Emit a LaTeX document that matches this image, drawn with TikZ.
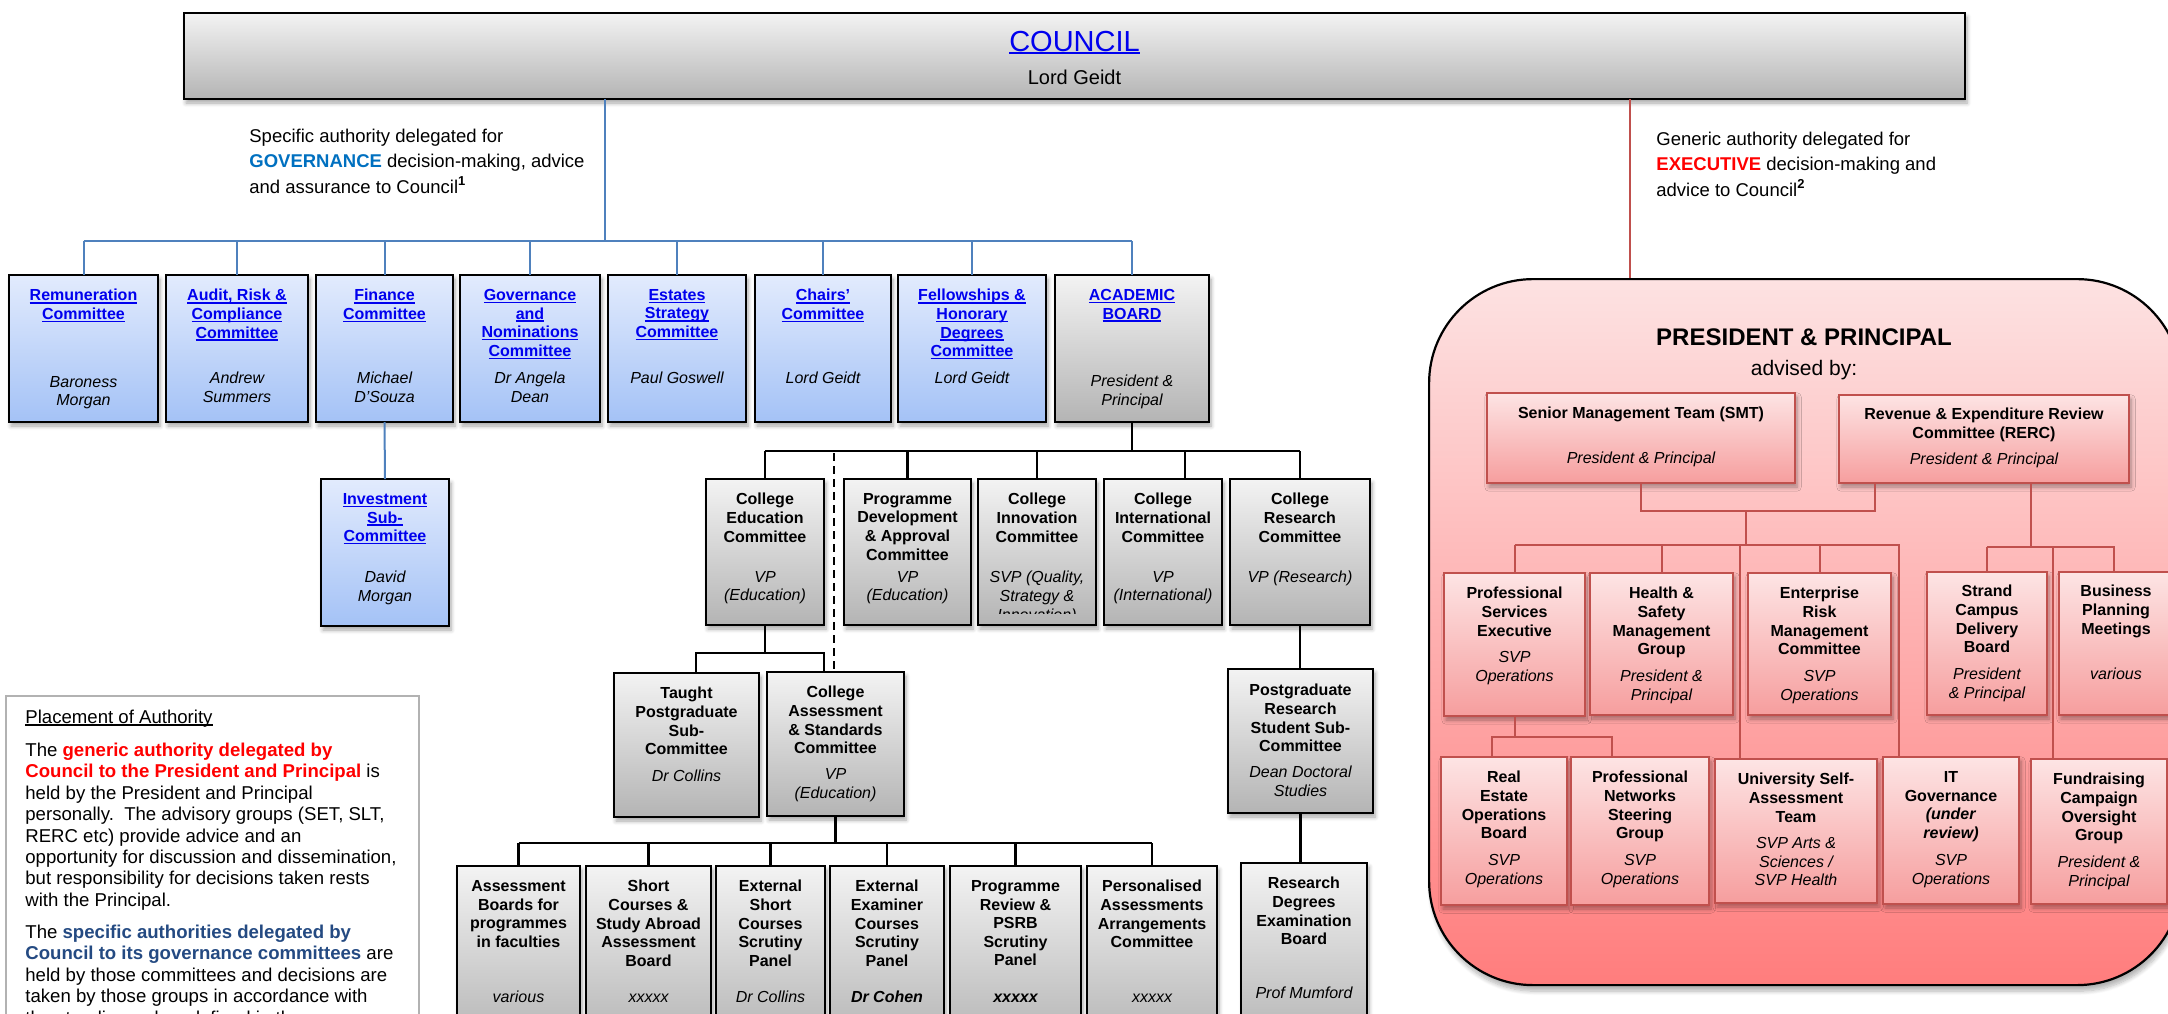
\documentclass[tikz,border=0pt]{standalone}
\usepackage{fontspec}
\setmainfont{Liberation Sans}
\usetikzlibrary{shadows.blur}
\definecolor{linkblue}{RGB}{0,0,238}
\definecolor{govblue}{RGB}{0,112,192}
\definecolor{specblue}{RGB}{36,74,130}
\definecolor{exred}{RGB}{255,0,0}
\definecolor{connblue}{RGB}{79,129,189}
\definecolor{connred}{RGB}{192,80,77}
\definecolor{blueT}{RGB}{226,235,253}
\definecolor{blueB}{RGB}{164,194,246}
\definecolor{greyT}{RGB}{243,243,243}
\definecolor{greyB}{RGB}{180,180,180}
\definecolor{redT}{RGB}{253,228,228}
\definecolor{redB}{RGB}{246,158,158}
\definecolor{bigT}{RGB}{253,226,226}
\definecolor{bigB}{RGB}{255,125,125}
\newcommand\lnk[1]{\setbox0\hbox{#1}\rlap{\rule[-1.3pt]{\wd0}{0.65pt}}\box0}
\newcommand\bx[6]{\node[#1, anchor=north west, minimum width={(#5-#3)*0.5pt}, minimum height={(#6-#4)*0.5pt}] (#2) at (#3,#4) {};}
\tikzset{
  shad/.style={blur shadow={shadow xshift=1pt, shadow yshift=-2pt, shadow blur steps=6, shadow opacity=35}},
  boxbase/.style={rectangle, inner sep=0pt, outer sep=0pt, line width=1.1pt, shad},
  bluebox/.style={boxbase, draw=black, top color=blueT, bottom color=blueB},
  greybox/.style={boxbase, draw=black, top color=greyT, bottom color=greyB},
  redbox/.style={boxbase, draw=connred, top color=redT, bottom color=redB},
  ttl/.style={font=\fontsize{8}{9.3}\selectfont\bfseries, align=center, inner sep=0pt, anchor=north, yshift=5.76pt},
  nm/.style={font=\fontsize{8}{9.3}\selectfont\itshape, align=center, inner sep=0pt, anchor=north, yshift=5.76pt},
  nmb/.style={font=\fontsize{8}{9.3}\selectfont\itshape, inner sep=0pt, anchor=base},
  lttl/.style={ttl, text=linkblue},
  hdr/.style={font=\fontsize{9.25}{12.75}\selectfont, align=left, inner sep=0pt, anchor=north west, yshift=6.66pt},
  ptxt/.style={font=\fontsize{9.3}{10.7}\selectfont, align=left, inner sep=0pt, anchor=north west, yshift=6.7pt},
  bconn/.style={draw=connblue, line width=1pt},
  kconn/.style={draw=black, line width=1.1pt},
  rconn/.style={draw=connred, line width=1pt},
}
\begin{document}
\begin{tikzpicture}[x=0.5pt,y=-0.5pt]
\useasboundingbox (0,0) rectangle (2168,1013);
% executive rounded area
\node[draw=black, line width=1.1pt, top color=bigT, bottom color=bigB, rounded corners=52pt, inner sep=0pt,
  blur shadow={shadow xshift=1pt, shadow yshift=-3pt, shadow blur steps=8, shadow opacity=30},
  anchor=north west, minimum width={(2180-1428)*0.5pt}, minimum height={(984-278)*0.5pt}] (exec) at (1428,278) {};
% council
\bx{greybox}{council}{184}{13}{1965}{99}
\node[font=\fontsize{14.5}{16}\selectfont, text=linkblue, anchor=base, inner sep=0pt] (councilT) at (council.north |- 0,51) {\lnk{COUNCIL}};
\node[font=\fontsize{10}{12}\selectfont, anchor=base, inner sep=0pt] (councilN) at (council.north |- 0,84) {Lord Geidt};
% header texts
\node[hdr] (ghdr) at (249,142) {Specific authority delegated for\\ \textbf{\textcolor{govblue}{GOVERNANCE}} decision-making, advice\\ and assurance to Council\textsuperscript{\textbf{1}}};
\node[hdr] (ehdr) at (1656,145) {Generic authority delegated for\\ \textbf{\textcolor{exred}{EXECUTIVE}} decision-making and\\ advice to Council\textsuperscript{\textbf{2}}};
% governance committees
\bx{bluebox}{rem}{9}{275}{158}{422}
\bx{bluebox}{audit}{166}{275}{308}{422}
\bx{bluebox}{fin}{316}{275}{453}{422}
\bx{bluebox}{gov}{460}{275}{600}{422}
\bx{bluebox}{est}{608}{275}{746}{422}
\bx{bluebox}{chairs}{755}{275}{891}{422}
\bx{bluebox}{fell}{898}{275}{1046}{422}
\bx{greybox}{acad}{1055}{275}{1209}{422}
\bx{bluebox}{inv}{321}{479}{449}{626}
\node[lttl] at (rem.north |- 0,300.5) {\lnk{Remuneration}\\\lnk{Committee}};
\node[nm] at (rem.north |- 0,387.5) {Baroness\\Morgan};
\node[lttl] at (audit.north |- 0,300.5) {\lnk{Audit, Risk \&}\\\lnk{Compliance}\\\lnk{Committee}};
\node[nm] at (audit.north |- 0,383.5) {Andrew\\Summers};
\node[lttl] at (fin.north |- 0,300.5) {\lnk{Finance}\\\lnk{Committee}};
\node[nm] at (fin.north |- 0,383.5) {Michael\\D’Souza};
\node[lttl] at (gov.north |- 0,300.5) {\lnk{Governance}\\\lnk{and}\\\lnk{Nominations}\\\lnk{Committee}};
\node[nm] at (gov.north |- 0,383.5) {Dr Angela\\Dean};
\node[lttl] at (est.north |- 0,300.5) {\lnk{Estates}\\\lnk{Strategy}\\\lnk{Committee}};
\node[nmb] at (est.north |- 0,383.5) {Paul Goswell};
\node[lttl] at (chairs.north |- 0,300.5) {\lnk{Chairs’}\\\lnk{Committee}};
\node[nmb] at (chairs.north |- 0,383.5) {Lord Geidt};
\node[lttl] at (fell.north |- 0,300.5) {\lnk{Fellowships \&}\\\lnk{Honorary}\\\lnk{Degrees}\\\lnk{Committee}};
\node[nmb] at (fell.north |- 0,383.5) {Lord Geidt};
\node[lttl] at (acad.north |- 0,300.5) {\lnk{ACADEMIC}\\\lnk{BOARD}};
\node[nm] at (acad.north |- 0,386.5) {President \&\\Principal};
\node[lttl] at (inv.north |- 0,504.5) {\lnk{Investment}\\\lnk{Sub-}\\\lnk{Committee}};
\node[nm] at (inv.north |- 0,582.5) {David\\Morgan};
% academic second row
\bx{greybox}{ced}{706}{479}{824}{625}
\bx{greybox}{pda}{844}{479}{971}{625}
\bx{greybox}{cin}{978}{479}{1096}{625}
\bx{greybox}{cint}{1104}{479}{1222}{625}
\bx{greybox}{cres}{1230}{479}{1370}{625}
\node[ttl] at (ced.north |- 0,504.5) {College\\Education\\Committee};
\node[nm] at (ced.north |- 0,582.5) {VP\\(Education)};
\node[ttl] at (pda.north |- 0,504.5) {Programme\\Development\\\& Approval\\Committee};
\node[nm] at (pda.north |- 0,582.5) {VP\\(Education)};
\node[ttl] at (cin.north |- 0,504.5) {College\\Innovation\\Committee};
\begin{scope}
\clip (cin.north west) rectangle (cin.east |- 0,613);
\node[nm] at (cin.north |- 0,582.5) {SVP (Quality,\\Strategy \&\\Innovation)};
\end{scope}
\node[ttl] at (cint.north |- 0,504.5) {College\\International\\Committee};
\node[nm] at (cint.north |- 0,582.5) {VP\\(International)};
\node[ttl] at (cres.north |- 0,504.5) {College\\Research\\Committee};
\node[nmb] at (cres.north |- 0,582.5) {VP (Research)};
% academic third row
\bx{greybox}{tpg}{614}{673}{759}{817}
\bx{greybox}{cas}{767}{672}{904}{816}
\bx{greybox}{pgr}{1228}{669}{1373}{813}
\node[ttl] at (tpg.north |- 0,698.5) {Taught\\Postgraduate\\Sub-\\Committee};
\node[nmb] at (tpg.north |- 0,781.5) {Dr Collins};
\node[ttl] at (cas.north |- 0,697.5) {College\\Assessment\\\& Standards\\Committee};
\node[nm] at (cas.north |- 0,779.5) {VP\\(Education)};
\node[ttl] at (pgr.north |- 0,695.5) {Postgraduate\\Research\\Student Sub-\\Committee};
\node[nm] at (pgr.north |- 0,777.5) {Dean Doctoral\\Studies};
% bottom row
\bx{greybox}{ab}{457}{866}{580}{1045}
\bx{greybox}{sc}{586}{866}{711}{1045}
\bx{greybox}{esc}{716}{866}{825}{1045}
\bx{greybox}{ee}{830}{866}{944}{1045}
\bx{greybox}{pr}{950}{866}{1081}{1045}
\bx{greybox}{pa}{1087}{866}{1217}{1045}
\bx{greybox}{rde}{1241}{863}{1367}{1045}
\node[ttl] at (ab.north |- 0,891.5) {Assessment\\Boards for\\programmes\\in faculties};
\node[nmb] at (ab.north |- 0,1002.5) {various};
\node[ttl] at (sc.north |- 0,891.5) {Short\\Courses \&\\Study Abroad\\Assessment\\Board};
\node[nmb] at (sc.north |- 0,1002.5) {xxxxx};
\node[ttl] at (esc.north |- 0,891.5) {External\\Short\\Courses\\Scrutiny\\Panel};
\node[nmb] at (esc.north |- 0,1002.5) {Dr Collins};
\node[ttl] at (ee.north |- 0,891.5) {External\\Examiner\\Courses\\Scrutiny\\Panel};
\node[nmb] at (ee.north |- 0,1002.5) {\bfseries Dr Cohen};
\node[ttl] at (pr.north |- 0,891.5) {Programme\\Review \&\\PSRB\\Scrutiny\\Panel};
\node[nmb] at (pr.north |- 0,1002.5) {\bfseries xxxxx};
\node[ttl] at (pa.north |- 0,891.5) {Personalised\\Assessments\\Arrangements\\Committee};
\node[nmb] at (pa.north |- 0,1002.5) {xxxxx};
\node[ttl] at (rde.north |- 0,888.5) {Research\\Degrees\\Examination\\Board};
\node[nmb] at (rde.north |- 0,998.5) {Prof Mumford};
% placement of authority
\node[draw=black!30, line width=0.8pt, fill=white, inner sep=0pt, anchor=north west,
  minimum width={(418-5)*0.5pt}, minimum height={(1045-695)*0.5pt}] (place) at (5,695) {};
\node[font=\fontsize{9.3}{10.7}\selectfont, inner sep=0pt, anchor=base west] (placeT) at (25,723) {\lnk{Placement of Authority}};
\node[ptxt] (placeA) at (25,756) {The \textbf{\textcolor{exred}{generic authority delegated by}}\\
\textbf{\textcolor{exred}{Council to the President and Principal}} is\\
held by the President and Principal\\
personally.\ \ The advisory groups (SET, SLT,\\
RERC etc) provide advice and an\\
opportunity for discussion and dissemination,\\
but responsibility for decisions taken rests\\
with the Principal.};
\node[ptxt] (placeB) at (25,938) {The \textbf{\textcolor{specblue}{specific authorities delegated by}}\\
\textbf{\textcolor{specblue}{Council to its governance committees}} are\\
held by those committees and decisions are\\
taken by those groups in accordance with\\
the standing orders defined in the};
% executive contents
\node[font=\fontsize{12}{14}\selectfont\bfseries, anchor=base, inner sep=0pt] (pp) at (1804,345.5) {PRESIDENT \& PRINCIPAL};
\node[font=\fontsize{10.5}{12}\selectfont, anchor=base, inner sep=0pt] (adv) at (1804,375.5) {advised by:};
\bx{redbox}{smt}{1487}{393}{1795}{483}
\bx{redbox}{rerc}{1839}{395}{2129}{483}
\node[ttl] at (smt.north |- 0,418.5) {Senior Management Team (SMT)};
\node[nmb] at (smt.north |- 0,463.5) {President \& Principal};
\node[ttl] at (rerc.north |- 0,419.5) {Revenue \& Expenditure Review\\Committee (RERC)};
\node[nmb] at (rerc.north |- 0,464.5) {President \& Principal};
\bx{redbox}{pse}{1444}{573}{1585}{716}
\bx{redbox}{hs}{1590}{573}{1733}{715}
\bx{redbox}{erm}{1748}{573}{1891}{715}
\bx{redbox}{scd}{1927}{572}{2047}{715}
\bx{redbox}{bpm}{2059}{572}{2175}{715}
\node[ttl] at (pse.north |- 0,598.5) {Professional\\Services\\Executive};
\node[nm] at (pse.north |- 0,662.5) {SVP\\Operations};
\node[ttl] at (hs.north |- 0,598.5) {Health \&\\Safety\\Management\\Group};
\node[nm] at (hs.north |- 0,681.5) {President \&\\Principal};
\node[ttl] at (erm.north |- 0,598.5) {Enterprise\\Risk\\Management\\Committee};
\node[nm] at (erm.north |- 0,681.5) {SVP\\Operations};
\node[ttl] at (scd.north |- 0,596.5) {Strand\\Campus\\Delivery\\Board};
\node[nm] at (scd.north |- 0,679.5) {President\\\& Principal};
\node[ttl] at (2116,596.5) {Business\\Planning\\Meetings};
\node[nmb] at (2116,679.5) {various};
\bx{redbox}{reob}{1441}{757}{1567}{905}
\bx{redbox}{pnsg}{1571}{757}{1709}{905}
\bx{redbox}{usat}{1715}{759}{1877}{903}
\bx{redbox}{itg}{1883}{757}{2019}{904}
\bx{redbox}{frc}{2031}{759}{2167}{904}
\node[ttl] at (reob.north |- 0,782.5) {Real\\Estate\\Operations\\Board};
\node[nm] at (reob.north |- 0,865.5) {SVP\\Operations};
\node[ttl] at (pnsg.north |- 0,782.5) {Professional\\Networks\\Steering\\Group};
\node[nm] at (pnsg.north |- 0,865.5) {SVP\\Operations};
\node[ttl] at (usat.north |- 0,784.5) {University Self-\\Assessment\\Team};
\node[nm] at (usat.north |- 0,848.5) {SVP Arts \&\\Sciences /\\SVP Health};
\node[ttl] at (itg.north |- 0,782.5) {IT\\Governance\\\textit{(under}\\\textit{review)}};
\node[nm] at (itg.north |- 0,865.5) {SVP\\Operations};
\node[ttl] at (frc.north |- 0,784.5) {Fundraising\\Campaign\\Oversight\\Group};
\node[nm] at (frc.north |- 0,867.5) {President \&\\Principal};
% ---- connectors: governance
\coordinate (gbus) at (605,241);
\draw[bconn] (council.south -| gbus) -- (gbus);
\draw[bconn] (rem.north |- gbus) -- (acad.north |- gbus);
\foreach \n in {rem,audit,fin,gov,est,chairs,fell,acad} \draw[bconn] (\n.north |- gbus) -- (\n.north);
\draw[bconn] (fin.south) -- (inv.north);
% ---- connectors: academic board
\coordinate (abus) at (1132,451);
\draw[kconn] (acad.south) -- (acad.south |- abus);
\draw[kconn] (ced.north |- abus) -- (cres.north |- abus);
\foreach \n in {ced,pda,cin,cres} \draw[kconn] (\n.north |- abus) -- (\n.north);
\coordinate (cintd) at (1185,451);
\draw[kconn] (cintd) -- (cintd |- cint.north);
\coordinate (dsh) at (834,453);
\draw[kconn, dash pattern=on 4pt off 2.5pt] (dsh) -- (dsh |- cas.north);
\coordinate (ebus) at (764,653);
\draw[kconn] (ced.south) -- (ced.south |- ebus);
\coordinate (tpgd) at (696,653);
\coordinate (casd) at (824,653);
\draw[kconn] (tpgd |- tpg.north) -- (tpgd) -- (casd) -- (casd |- cas.north);
\coordinate (cbus) at (836,843);
\draw[kconn] (cas.south) -- (cas.south |- cbus);
\draw[kconn] (ab.north |- cbus) -- (pa.north |- cbus);
\foreach \n in {ab,sc,esc,ee,pr,pa} \draw[kconn] (\n.north |- cbus) -- (\n.north);
\draw[kconn] (cres.south) -- (cres.south |- pgr.north);
\draw[kconn] (pgr.south) -- (pgr.south |- rde.north);
% ---- connectors: executive
\coordinate (exd) at (1630,0);
\draw[rconn] (council.south -| exd) -- (exec.north -| exd);
\coordinate (sbus) at (1746,511);
\coordinate (rercL) at (1875,511);
\draw[rconn] (smt.south) -- (smt.south |- rercL) -- (rercL) -- (rercL |- rerc.south);
\coordinate (mbus) at (1746,545);
\draw[rconn] (sbus) -- (mbus);
\coordinate (itgd) at (1899,545);
\draw[rconn] (pse.north |- mbus) -- (itgd) -- (itgd |- itg.north);
\foreach \n in {pse,hs,erm} \draw[rconn] (\n.north |- mbus) -- (\n.north);
\coordinate (usatd) at (1740,545);
\draw[rconn] (usatd) -- (usatd |- usat.north);
\coordinate (rr) at (2031,547);
\draw[rconn] (rr |- rerc.south) -- (rr);
\coordinate (bpmd) at (2114,547);
\draw[rconn] (scd.north |- rr) -- (bpmd) -- (bpmd |- bpm.north);
\draw[rconn] (scd.north |- rr) -- (scd.north);
\coordinate (frcd) at (2053,547);
\draw[rconn] (frcd) -- (frcd |- frc.north);
\coordinate (pbus) at (1519,737);
\draw[rconn] (pse.south) -- (pse.south |- pbus);
\coordinate (reobd) at (1492,737);
\coordinate (pnsgd) at (1612,737);
\draw[rconn] (reobd |- reob.north) -- (reobd) -- (pnsgd) -- (pnsgd |- pnsg.north);
\end{tikzpicture}
\end{document}
